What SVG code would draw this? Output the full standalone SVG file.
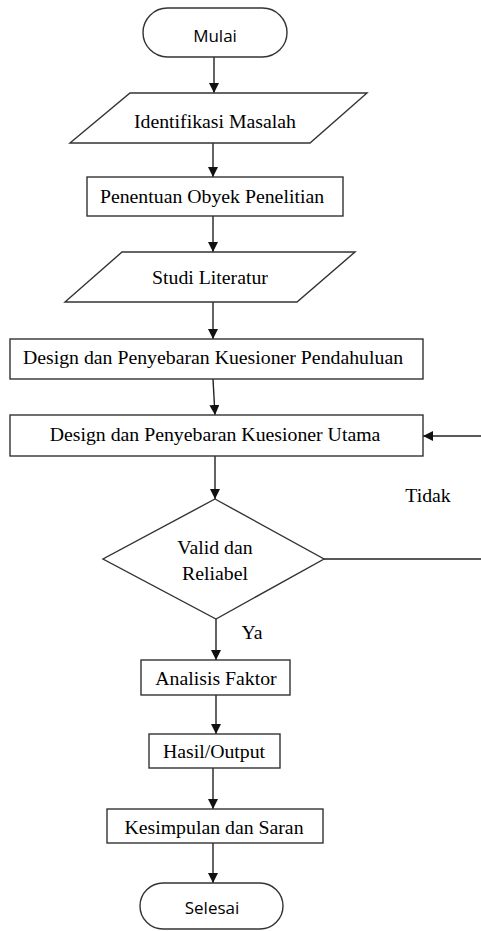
<svg xmlns="http://www.w3.org/2000/svg" width="481" height="931" viewBox="0 0 481 931">
<style>
.shape{fill:#fff;stroke:#333;stroke-width:1.4}
.lbl{font-family:"Liberation Serif","Times New Roman",serif;font-size:19.8px;fill:#000;text-anchor:middle}
.term{font-family:"Open Sans","Noto Sans",sans-serif;font-size:17px;fill:#000;text-anchor:middle}
.conn line{stroke:#222;stroke-width:1.4;fill:none}
</style>
<defs>
<marker id="arr" viewBox="0 0 10 10" refX="10" refY="5" markerWidth="10" markerHeight="10" markerUnits="userSpaceOnUse" orient="auto">
<path d="M0,0 L10,5 L0,10 z" fill="#111"/>
</marker>
</defs>
<rect width="481" height="931" fill="#fff"/>
<g class="conn">
<line x1="214" y1="57" x2="214" y2="93" marker-end="url(#arr)"/>
<line x1="213" y1="143" x2="213" y2="177" marker-end="url(#arr)"/>
<line x1="213" y1="216" x2="213" y2="252" marker-end="url(#arr)"/>
<line x1="213" y1="302" x2="213" y2="339" marker-end="url(#arr)"/>
<line x1="213" y1="379" x2="215" y2="415" marker-end="url(#arr)"/>
<line x1="215" y1="456" x2="215" y2="499" marker-end="url(#arr)"/>
<line x1="216" y1="619" x2="216" y2="660" marker-end="url(#arr)"/>
<line x1="216" y1="695" x2="216" y2="734" marker-end="url(#arr)"/>
<line x1="213" y1="768" x2="213" y2="809" marker-end="url(#arr)"/>
<line x1="213" y1="843" x2="213" y2="883" marker-end="url(#arr)"/>
<line x1="324" y1="559" x2="481" y2="559"/>
<line x1="481" y1="436" x2="423" y2="436" marker-end="url(#arr)"/>
</g>
<g id="mulai">
<rect class="shape" x="143" y="8" width="144" height="49" rx="24.5"/>
<text class="term" x="215" y="42">Mulai</text>
</g>
<g id="identifikasi">
<polygon class="shape" points="130,93 367,93 310,143 70,143"/>
<text class="lbl" x="215" y="128">Identifikasi Masalah</text>
</g>
<g id="penentuan">
<rect class="shape" x="87" y="177" width="256" height="39"/>
<text class="lbl" x="212" y="203">Penentuan Obyek Penelitian</text>
</g>
<g id="studi">
<polygon class="shape" points="122,252 355,252 297,302 65,302"/>
<text class="lbl" x="210" y="284">Studi Literatur</text>
</g>
<g id="pendahuluan">
<rect class="shape" x="10" y="339" width="413" height="40"/>
<text class="lbl" x="213" y="364">Design dan Penyebaran Kuesioner Pendahuluan</text>
</g>
<g id="utama">
<rect class="shape" x="10" y="415" width="413" height="41"/>
<text class="lbl" x="215" y="441">Design dan Penyebaran Kuesioner Utama</text>
</g>
<g id="valid">
<polygon class="shape" points="215,499 324,559 216,619 103,559"/>
<text class="lbl" x="215" y="554">Valid dan</text>
<text class="lbl" x="215" y="580">Reliabel</text>
</g>
<g id="label-tidak"><text class="lbl" x="428" y="502">Tidak</text></g>
<g id="label-ya"><text class="lbl" x="252" y="639">Ya</text></g>
<g id="analisis">
<rect class="shape" x="141" y="660" width="149" height="35"/>
<text class="lbl" x="216" y="685">Analisis Faktor</text>
</g>
<g id="hasil">
<rect class="shape" x="149" y="734" width="131" height="34"/>
<text class="lbl" x="214" y="758">Hasil/Output</text>
</g>
<g id="kesimpulan">
<rect class="shape" x="107" y="809" width="216" height="34"/>
<text class="lbl" x="214" y="834">Kesimpulan dan Saran</text>
</g>
<g id="selesai">
<rect class="shape" x="140" y="883" width="143" height="46" rx="23"/>
<text class="term" x="212" y="914">Selesai</text>
</g>
</svg>
